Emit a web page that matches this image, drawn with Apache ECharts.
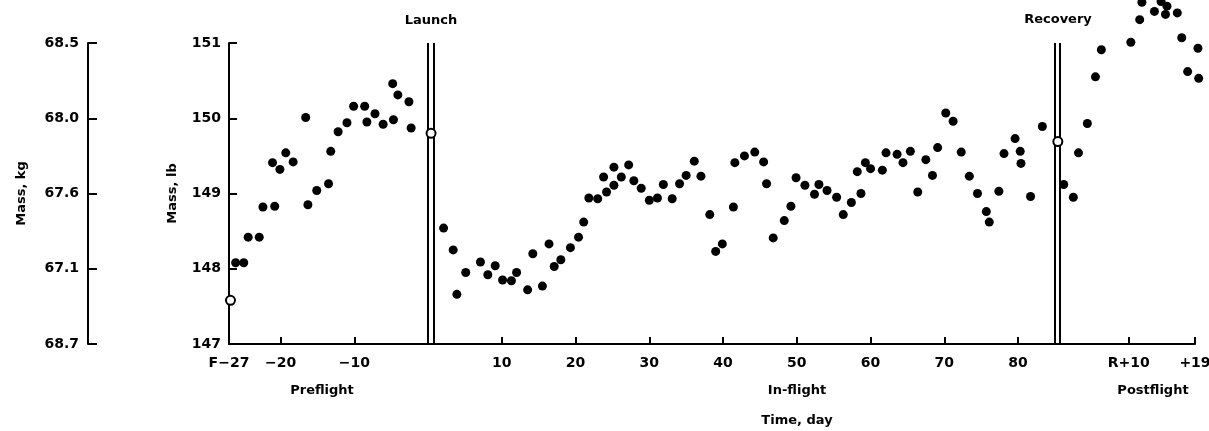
<!DOCTYPE html>
<html>
<head>
    <meta charset="utf-8">
    <script type="text/javascript" src="https://cdn.jsdelivr.net/npm/echarts@6/dist/echarts.min.js"></script>
</head>
<body style="margin: 0; background: #fff">
<div id="container" style="width: 1209px; height: 431px"></div>
<script type="text/javascript">
    // day of recovery on the flight day scale (R+0)
    var RECOVERY = 85;

    // preflight: days before launch
    var preDays = [-26.1, -25.0, -24.4, -22.9, -22.4, -20.8, -21.1, -20.1, -19.3, -18.3, -16.6, -16.3, -15.1, -13.5,
        -13.2, -12.2, -11.0, -10.1, -8.6, -8.3, -7.2, -6.1, -4.8, -4.7, -4.1, -2.6, -2.3];
    var preMass = [148.08, 148.08, 148.42, 148.42, 148.82, 148.83, 149.41, 149.32, 149.54, 149.42, 150.01, 148.85, 149.04, 149.13,
        149.56, 149.82, 149.94, 150.16, 150.16, 149.95, 150.06, 149.92, 150.46, 149.98, 150.31, 150.22, 149.87];

    // in-flight
    var inDays = [2.1, 3.4, 3.9, 5.1, 7.1, 8.1, 9.1, 10.1, 11.3, 12.0, 13.5, 14.2, 15.5, 16.4, 17.1, 18.0, 19.3, 20.4,
        21.1, 21.8, 23.0, 23.8, 24.2, 25.2, 25.2, 26.2, 27.2, 27.9, 28.9, 30.0, 31.1, 31.9, 33.1, 34.1, 35.0, 36.1,
        37.0, 38.2, 39.0, 39.9, 41.4, 41.6, 42.9, 44.3, 45.5, 45.9, 46.8, 48.3, 49.2, 49.9, 51.1, 52.4, 53.0, 54.1,
        55.4, 56.3, 57.4, 58.2, 58.7, 59.3, 60.0, 61.6, 62.1, 63.6, 64.4, 65.4, 66.4, 67.5, 68.4, 69.1, 70.2, 71.2,
        72.3, 73.4, 74.5, 75.7, 76.1, 77.4, 78.1, 79.6, 80.3, 80.4, 81.7, 83.3];
    var inMass = [148.54, 148.25, 147.66, 147.95, 148.09, 147.92, 148.04, 147.85, 147.84, 147.95, 147.72, 148.20, 147.77, 148.33,
        148.03, 148.12, 148.28, 148.42, 148.62, 148.94, 148.93, 149.22, 149.02, 149.35, 149.11, 149.22, 149.38, 149.17,
        149.07, 148.91, 148.94, 149.12, 148.93, 149.13, 149.24, 149.43, 149.23, 148.72, 148.23, 148.33, 148.82, 149.41,
        149.50, 149.55, 149.42, 149.13, 148.41, 148.64, 148.83, 149.21, 149.11, 148.99, 149.12, 149.04, 148.95, 148.72,
        148.88, 149.29, 149.00, 149.41, 149.33, 149.31, 149.54, 149.52, 149.41, 149.56, 149.02, 149.45, 149.24, 149.61,
        150.07, 149.96, 149.55, 149.23, 149.00, 148.76, 148.62, 149.03, 149.53, 149.73, 149.56, 149.40, 148.96, 149.89];

    // postflight: days after recovery
    var postDays = [1.2, 2.5, 3.2, 4.4, 5.5, 6.3, 10.3, 11.5, 11.8, 13.5, 14.4, 15.0, 15.2, 16.6, 17.2, 18.0, 19.4, 19.5];
    var postMass = [149.12, 148.95, 149.54, 149.93, 150.55, 150.91, 151.01, 151.31, 151.54, 151.42, 151.55, 151.38, 151.49,
        151.40, 151.07, 150.62, 150.93, 150.53];

    // open circles: start of preflight, launch, recovery
    var markerDays = [-26.8, 0.4, RECOVERY + 0.4];
    var markerMass = [147.58, 149.80, 149.69];

    var tickDays = [-27, -20, -10, 10, 20, 30, 40, 50, 60, 70, 80];
    var tickLabels = ['F\u221227', '\u221220', '\u221210', '10', '20', '30', '40', '50', '60', '70', '80'];
    var postTickDays = [10, 19];
    var postTickLabels = ['R+10', '+19'];

    var lbTicks = [147, 148, 149, 150, 151];
    var kgLabels = ['68.7', '67.1', '67.6', '68.0', '68.5'];

    var font = 'DejaVu Sans';

    function pairs(xs, ys, shift) {
        var out = [];
        for (var i = 0; i < xs.length; i++) {
            out.push([xs[i] + (shift || 0), ys[i]]);
        }
        return out;
    }

    var xTicks = tickDays.concat(postTickDays.map(function (d) { return RECOVERY + d; }));
    var xLabels = tickLabels.concat(postTickLabels);

    var myChart = echarts.init(document.getElementById('container'), null, {renderer: 'canvas'});

    var dotStyle = {color: '#000', opacity: 1};
    var labelFont = {color: '#000', fontFamily: font, fontWeight: 'bold', fontSize: 14};

    function text(str, x, y) {
        return {
            type: 'text', x: x, y: y,
            style: {text: str, font: 'bold 13px "' + font + '"', fill: '#000', align: 'center', verticalAlign: 'middle'}
        };
    }

    var option = {
        backgroundColor: '#fff',
        animation: false,
        grid: {left: 229, right: 14, top: 43, bottom: 87, containLabel: false, outerBoundsMode: 'none'},
        xAxis: {
            type: 'value',
            min: -27,
            max: RECOVERY + 19,
            splitLine: {show: false},
            axisLine: {onZero: false, lineStyle: {color: '#000', width: 2}},
            axisTick: {
                inside: true, length: 7,
                customValues: xTicks,
                lineStyle: {color: '#000', width: 2}
            },
            axisLabel: Object.assign({
                customValues: xTicks,
                margin: 12,
                formatter: function (v) {
                    for (var i = 0; i < xTicks.length; i++) {
                        if (Math.abs(xTicks[i] - v) < 1e-6) return xLabels[i];
                    }
                    return '';
                }
            }, labelFont)
        },
        yAxis: [{
            type: 'value',
            min: 147,
            max: 151,
            interval: 1,
            name: 'Mass, lb',
            nameLocation: 'middle',
            nameGap: 50,
            nameTextStyle: {color: '#000', fontFamily: font, fontWeight: 'bold', fontSize: 13},
            splitLine: {show: false},
            axisLine: {show: true, onZero: false, lineStyle: {color: '#000', width: 2}},
            axisTick: {show: true, inside: true, length: 8, lineStyle: {color: '#000', width: 2}},
            axisLabel: Object.assign({margin: 8}, labelFont)
        }, {
            type: 'value',
            position: 'left',
            offset: 141,
            min: 147,
            max: 151,
            interval: 1,
            name: 'Mass, kg',
            nameLocation: 'middle',
            nameGap: 60,
            nameTextStyle: {color: '#000', fontFamily: font, fontWeight: 'bold', fontSize: 13},
            splitLine: {show: false},
            axisLine: {show: true, onZero: false, lineStyle: {color: '#000', width: 2}},
            axisTick: {show: true, inside: true, length: 9, lineStyle: {color: '#000', width: 2}},
            axisLabel: Object.assign({
                margin: 9,
                formatter: function (v) {
                    return kgLabels[lbTicks.indexOf(Math.round(v))];
                }
            }, labelFont)
        }],
        graphic: [
            text('Launch', 431, 21),
            text('Recovery', 1058, 20),
            text('Preflight', 322, 391),
            text('In-flight', 797, 391),
            text('Postflight', 1153, 391),
            text('Time, day', 797, 421)
        ],
        series: [{
            type: 'scatter',
            name: 'Preflight',
            clip: false,
            symbolSize: 9,
            itemStyle: dotStyle,
            data: pairs(preDays, preMass)
        }, {
            type: 'scatter',
            name: 'In-flight',
            clip: false,
            symbolSize: 9,
            itemStyle: dotStyle,
            data: pairs(inDays, inMass),
            markLine: {
                silent: true,
                symbol: 'none',
                label: {show: false},
                lineStyle: {color: '#000', width: 2, type: 'solid', opacity: 1},
                data: [{xAxis: 0}, {xAxis: 0.8}, {xAxis: RECOVERY}, {xAxis: RECOVERY + 0.7}]
            }
        }, {
            type: 'scatter',
            name: 'Postflight',
            clip: false,
            symbolSize: 9,
            itemStyle: dotStyle,
            data: pairs(postDays, postMass, RECOVERY)
        }, {
            type: 'scatter',
            name: 'Markers',
            clip: false,
            z: 5,
            symbolSize: 9,
            itemStyle: {color: '#fff', borderColor: '#000', borderWidth: 2, opacity: 1},
            data: pairs(markerDays, markerMass)
        }]
    };

    myChart.setOption(option);
</script>
</body>
</html>
